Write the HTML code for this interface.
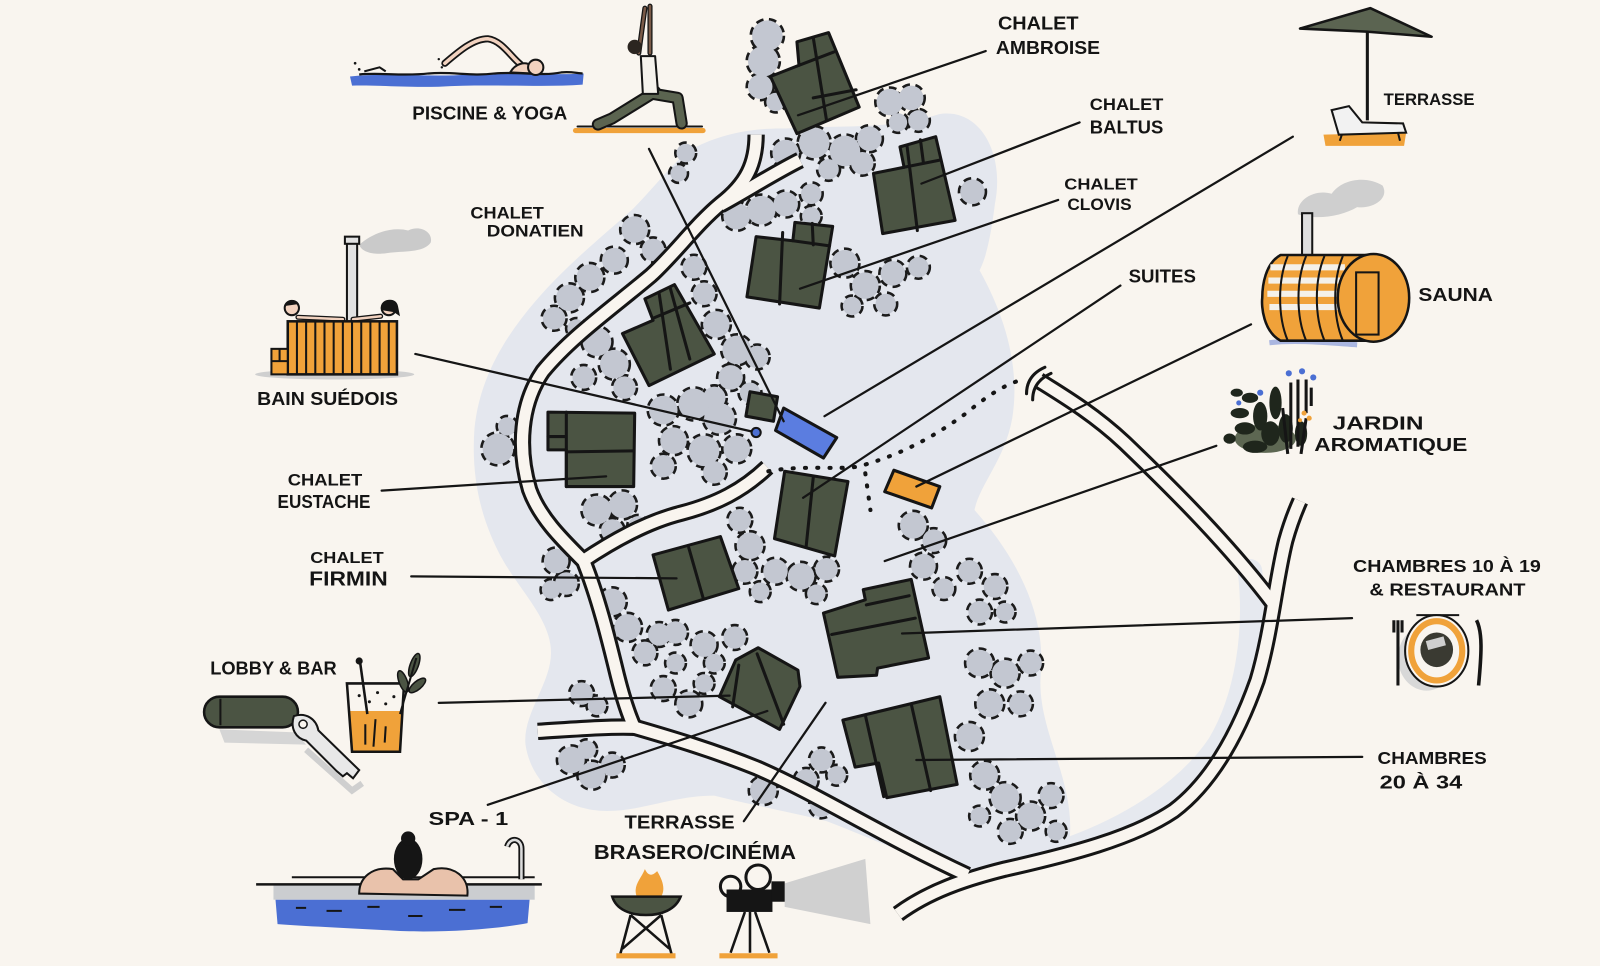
<!DOCTYPE html>
<html><head><meta charset="utf-8">
<style>
html,body{margin:0;padding:0;background:#f9f5ef;}
svg{display:block}
text{font-family:"Liberation Sans",Arial,sans-serif;font-weight:bold;fill:#141414;font-size:18px;}
</style></head><body>
<svg width="1600" height="966" viewBox="0 0 1568 947" preserveAspectRatio="none" xmlns="http://www.w3.org/2000/svg" xmlns:xlink="http://www.w3.org/1999/xlink">
<defs>
<g id="tr">
<circle cx="752" cy="35" r="15"/><circle cx="748" cy="60" r="15"/><circle cx="745" cy="85" r="12"/><circle cx="760" cy="100" r="9"/>
<circle cx="770" cy="150" r="13"/><circle cx="798" cy="140" r="15"/><circle cx="828" cy="148" r="15"/><circle cx="852" cy="136" r="12"/><circle cx="845" cy="160" r="11"/><circle cx="812" cy="166" r="10"/><circle cx="872" cy="100" r="13"/><circle cx="893" cy="96" r="12"/><circle cx="900" cy="118" r="10"/><circle cx="880" cy="120" r="9"/>
<circle cx="953" cy="188" r="12"/>
<circle cx="722" cy="212" r="13"/><circle cx="746" cy="206" r="14"/><circle cx="770" cy="200" r="12"/><circle cx="795" cy="190" r="10"/><circle cx="795" cy="212" r="9"/>
<circle cx="828" cy="258" r="13"/><circle cx="848" cy="280" r="13"/><circle cx="875" cy="268" r="12"/><circle cx="900" cy="262" r="10"/><circle cx="868" cy="298" r="10"/><circle cx="835" cy="300" r="9"/>
<circle cx="622" cy="225" r="13"/><circle cx="640" cy="245" r="11"/><circle cx="602" cy="255" r="12"/><circle cx="578" cy="272" r="13"/><circle cx="558" cy="292" r="13"/><circle cx="543" cy="312" r="11"/><circle cx="565" cy="322" r="9"/>
<circle cx="585" cy="335" r="14"/><circle cx="602" cy="357" r="14"/><circle cx="572" cy="370" r="11"/><circle cx="612" cy="380" r="11"/>
<circle cx="488" cy="440" r="15"/><circle cx="497" cy="418" r="9"/>
<circle cx="585" cy="500" r="14"/><circle cx="610" cy="495" r="13"/><circle cx="600" cy="520" r="11"/><circle cx="625" cy="515" r="9"/><circle cx="545" cy="550" r="12"/><circle cx="555" cy="572" r="11"/><circle cx="540" cy="578" r="9"/>
<circle cx="680" cy="262" r="11"/><circle cx="690" cy="288" r="11"/><circle cx="702" cy="318" r="13"/><circle cx="722" cy="343" r="14"/><circle cx="716" cy="370" r="12"/><circle cx="742" cy="350" r="11"/><circle cx="700" cy="390" r="11"/><circle cx="735" cy="385" r="10"/>
<circle cx="650" cy="402" r="14"/><circle cx="680" cy="396" r="15"/><circle cx="705" cy="410" r="15"/><circle cx="660" cy="432" r="13"/><circle cx="690" cy="442" r="15"/><circle cx="722" cy="440" r="13"/><circle cx="700" cy="463" r="11"/><circle cx="650" cy="457" r="11"/>
<circle cx="600" cy="590" r="13"/><circle cx="615" cy="615" r="13"/><circle cx="632" cy="640" r="11"/><circle cx="646" cy="622" r="11"/><circle cx="725" cy="510" r="11"/><circle cx="735" cy="535" r="13"/><circle cx="730" cy="560" r="11"/><circle cx="745" cy="580" r="9"/><circle cx="760" cy="560" r="12"/><circle cx="785" cy="565" r="13"/><circle cx="810" cy="558" r="11"/><circle cx="800" cy="582" r="9"/><circle cx="662" cy="620" r="11"/><circle cx="690" cy="632" r="12"/><circle cx="720" cy="625" r="11"/><circle cx="700" cy="650" r="9"/><circle cx="662" cy="650" r="9"/>
<circle cx="895" cy="515" r="13"/><circle cx="915" cy="530" r="11"/><circle cx="905" cy="555" r="12"/><circle cx="925" cy="577" r="10"/><circle cx="950" cy="560" r="11"/><circle cx="975" cy="575" r="11"/><circle cx="960" cy="600" r="11"/><circle cx="985" cy="600" r="9"/>
<circle cx="960" cy="650" r="13"/><circle cx="985" cy="660" r="13"/><circle cx="1010" cy="650" r="11"/><circle cx="970" cy="690" r="13"/><circle cx="1000" cy="690" r="11"/>
<circle cx="950" cy="722" r="13"/><circle cx="965" cy="760" r="13"/><circle cx="985" cy="782" r="14"/><circle cx="1010" cy="800" r="13"/><circle cx="1030" cy="780" r="11"/><circle cx="990" cy="815" r="11"/><circle cx="960" cy="800" r="9"/><circle cx="1035" cy="815" r="9"/>
<circle cx="570" cy="680" r="11"/><circle cx="585" cy="692" r="9"/><circle cx="560" cy="745" r="13"/><circle cx="580" cy="760" r="13"/><circle cx="600" cy="750" r="11"/><circle cx="575" cy="735" r="9"/>
<circle cx="650" cy="675" r="11"/><circle cx="675" cy="690" r="12"/><circle cx="690" cy="670" r="9"/><circle cx="748" cy="775" r="13"/><circle cx="790" cy="765" r="11"/><circle cx="805" cy="790" r="11"/><circle cx="805" cy="745" r="11"/><circle cx="820" cy="760" r="9"/>
<circle cx="672" cy="150" r="9"/><circle cx="665" cy="170" r="8"/>
</g>
<path id="r1" d="M741,132 C741,160 732,180 706,200 C682,220 662,248 638,270 C600,302 560,330 532,364 C510,396 507,440 519,480 C529,508 552,530 572,550 C586,585 596,625 605,662 C612,690 617,703 622,714"/>
<path id="r1b" d="M706,201 C730,188 758,170 784,157"/>
<path id="r2" d="M571,550 C598,532 632,512 668,503 C702,494 728,481 752,458"/>
<path id="r3" d="M527,717 C560,715 595,712 622,713"/>
<path id="r4" d="M622,713 C660,724 700,736 742,753 C802,779 862,818 948,858"/>
<path id="r5" d="M880,896 C910,874 945,862 985,852 C1047,838 1110,822 1150,795 C1190,765 1215,715 1232,667 C1246,620 1250,570 1260,530 C1265,512 1270,500 1274,491"/>
<path id="r6" d="M1248,592 C1205,535 1152,482 1102,434 C1072,406 1042,388 1018,373"/>
</defs>

<rect width="1568" height="947" fill="#f9f5ef"/>

<!-- wash -->
<path d="M672,150 C695,135 730,125 770,126 C820,122 870,128 920,112 C960,105 985,150 975,200 C970,240 965,255 960,265 C985,310 1000,360 992,410 C985,450 960,475 955,500 C995,545 1025,600 1020,660 C1015,715 1055,765 1048,825 C1020,855 975,860 940,852 C890,840 850,820 810,805 C770,795 740,790 700,780 C660,780 630,795 595,795 C550,795 520,765 515,730 C512,700 540,670 540,640 C540,605 505,575 488,540 C468,500 462,460 465,420 C470,370 495,330 525,295 C555,260 590,232 620,205 C640,185 655,165 672,150 Z" fill="#e4e7ee"/>
<path d="M1225,560 C1232,620 1222,685 1195,730 C1165,775 1110,810 1050,832" stroke="#e6e9ef" stroke-width="24" fill="none" stroke-linecap="round"/>

<!-- trees -->
<use xlink:href="#tr" fill="none" stroke="#1b1b1b" stroke-width="5" stroke-dasharray="7 5"/>
<use xlink:href="#tr" fill="#c3c7d1" stroke="none"/>

<!-- roads -->
<g fill="none" stroke-linecap="butt" stroke-linejoin="round">
<g stroke="#151515" stroke-width="17">
<use xlink:href="#r1"/><use xlink:href="#r1b"/><use xlink:href="#r2"/><use xlink:href="#r3"/><use xlink:href="#r4"/><use xlink:href="#r5"/><use xlink:href="#r6"/>
</g>
<g stroke="#f9f5ef" stroke-width="11">
<use xlink:href="#r1"/><use xlink:href="#r1b"/><use xlink:href="#r2"/><use xlink:href="#r3"/><use xlink:href="#r4"/><use xlink:href="#r5"/><use xlink:href="#r6"/>
</g>
<path d="M1006,386 Q1006,368 1024,360 M1012,392 Q1012,374 1030,366" stroke="#151515" stroke-width="3" stroke-linecap="round"/>
<path d="M753,462 C790,455 830,462 846,456 C880,446 910,432 947,405 C965,390 985,376 1003,372 M848,464 L853,500" stroke="#151515" stroke-width="4" stroke-dasharray="1 11" stroke-linecap="round"/>
</g>

<!-- buildings -->
<g fill="#4b5443" stroke="#151515" stroke-width="3" stroke-linejoin="round">
<polygon points="755,75 783,64 781,41 812,32 842,105 781,131"/>
<polygon points="856,170 886,164 882,144 917,134 936,216 865,229"/>
<polygon points="741,232 777,236 779,218 816,222 803,302 732,291"/>
<polygon points="610,327 640,314 632,293 661,279 700,347 636,378"/>
<polygon points="537,404 622,405 621,477 555,477 555,441 537,441"/>
<polygon points="769,462 831,472 818,545 759,528"/>
<polygon points="735,384 762,389 758,413 731,408"/>
<polygon points="640,544 706,526 724,577 655,598"/>
<polygon points="807,601 848,588 846,578 893,568 910,645 860,655 859,662 821,664"/>
<polygon points="826,706 921,683 938,769 869,782 861,748 838,752"/>
<polygon points="705,683 721,647 743,635 782,657 784,673 764,715"/>
<polygon points="768,400 820,429 807,449 760,422" fill="#5b7de0"/>
<polygon points="876,461 921,477 913,498 867,482" fill="#f0a23a"/>
</g>
<g stroke="#151515" stroke-width="3" fill="none" stroke-linecap="round">
<path d="M783,64 L817,51 M797,37 L810,118 M797,96 L839,88"/>
<path d="M886,164 L921,157 M889,144 L899,226 M902,137 L905,160"/>
<path d="M777,236 L813,241 M767,228 L764,298 M796,219 L797,240"/>
<path d="M640,312 L676,297 M646,288 L657,362 M657,283 L676,352"/>
<path d="M555,404 L555,477 M555,443 L621,442 M537,428 L555,428"/>
<path d="M797,468 L790,536"/>
<path d="M675,537 L689,586"/>
<path d="M849,593 L891,584 M815,622 L897,606"/>
<path d="M848,701 L866,781 M893,690 L912,775"/>
<path d="M724,652 L718,693 M742,641 L768,710"/>
</g>

<!-- leader lines -->
<g stroke="#151515" stroke-width="2.2" fill="none" stroke-linecap="round">
<path d="M636,146 L768,413"/>
<path d="M782,113 L966,50"/>
<path d="M903,180 L1058,120"/>
<path d="M784,283 L1037,196"/>
<path d="M787,488 L1098,280"/>
<path d="M808,408 L1267,134"/>
<path d="M898,477 L1226,318"/>
<path d="M867,550 L1192,437"/>
<path d="M407,347 L741,424"/>
<path d="M374,481 L594,467"/>
<path d="M403,565 L663,567"/>
<path d="M430,689 L715,682"/>
<path d="M478,789 L752,697"/>
<path d="M729,805 L809,689"/>
<path d="M884,621 L1325,606"/>
<path d="M898,745 L1335,742"/>
</g>
<circle cx="741" cy="424" r="4.5" fill="#4b6fd3" stroke="#151515" stroke-width="2"/>

<!-- swimmer -->
<path d="M343,75 C380,71 420,76 460,73 C500,71 540,74 572,72 L571,83 C530,86 480,82 430,85 C395,86 365,83 345,84 Z" fill="#4b6fd3"/>
<path d="M352,73 C375,71 395,75 420,72 C445,70 460,75 485,72 C510,70 530,75 550,71 C560,70 566,72 571,72" fill="none" stroke="#151515" stroke-width="2.2"/>
<path d="M436,62 C450,50 464,38 478,38 C492,40 500,55 510,63" fill="none" stroke="#151515" stroke-width="7" stroke-linecap="round"/>
<path d="M436,62 C450,50 464,38 478,38 C492,40 500,55 510,63" fill="none" stroke="#f2d2bf" stroke-width="3.5" stroke-linecap="round"/>
<path d="M500,71 C505,62 515,60 520,64 L520,72 Z" fill="#f2d2bf" stroke="#151515" stroke-width="2"/>
<circle cx="525" cy="66" r="7.5" fill="#f2d2bf" stroke="#151515" stroke-width="2"/>
<path d="M357,70 L372,66 L378,70" fill="none" stroke="#151515" stroke-width="2"/>
<g fill="#151515"><circle cx="348" cy="62" r="1.3"/><circle cx="352" cy="68" r="1.3"/><circle cx="430" cy="58" r="1.2"/><circle cx="433" cy="66" r="1.2"/></g>

<!-- yoga -->
<g stroke-linecap="round" stroke-linejoin="round" fill="none">
<line x1="564" y1="128" x2="689" y2="128" stroke="#f0a23a" stroke-width="5"/>
<line x1="566" y1="124" x2="688" y2="124" stroke="#151515" stroke-width="2"/>
<path d="M642,90 L600,116 L586,122" stroke="#151515" stroke-width="12"/>
<path d="M640,92 L664,96 L668,121" stroke="#151515" stroke-width="12"/>
<path d="M642,90 L600,116 L586,122" stroke="#5b6450" stroke-width="8"/>
<path d="M640,92 L664,96 L668,121" stroke="#5b6450" stroke-width="8"/>
<path d="M628,55 L642,55 L645,92 L630,92 Z" fill="#f5f2ec" stroke="#151515" stroke-width="2"/>
<path d="M626,52 L632,8 M637,52 L637,6" stroke="#151515" stroke-width="5"/>
<path d="M626,52 L632,8 M637,52 L637,6" stroke="#7a5a48" stroke-width="2.5"/>
</g>
<circle cx="622" cy="46" r="7" fill="#2b2520"/>

<!-- bain suedois -->
<path d="M352,240 C365,228 385,222 400,226 C412,220 425,228 422,238 C415,248 395,246 380,248 C368,250 355,248 352,240Z" fill="#cacaca"/>
<ellipse cx="328" cy="367" rx="78" ry="5" fill="#cfcfcf"/>
<rect x="340" y="238" width="10" height="78" fill="#e2e2e2" stroke="#151515" stroke-width="2"/>
<rect x="338" y="232" width="14" height="7" fill="#e2e2e2" stroke="#151515" stroke-width="2"/>
<path d="M292,311 L336,313 M346,313 L373,310" stroke="#151515" stroke-width="5" stroke-linecap="round"/>
<path d="M292,311 L336,313 M346,313 L373,310" stroke="#f2d2bf" stroke-width="2.5" stroke-linecap="round"/>
<circle cx="286" cy="302" r="7" fill="#f2d2bf" stroke="#151515" stroke-width="2"/>
<path d="M279,300 C280,293 290,292 293,298" fill="#151515"/>
<circle cx="381" cy="302" r="7" fill="#f2d2bf" stroke="#151515" stroke-width="2"/>
<path d="M374,304 C372,293 388,290 390,300 L392,310 L386,306 Z" fill="#151515"/>
<rect x="282" y="315" width="107" height="52" fill="#f0a23a" stroke="#151515" stroke-width="2.5"/>
<g stroke="#151515" stroke-width="2">
<path d="M291,315 V367 M300,315 V367 M309,315 V367 M318,315 V367 M327,315 V367 M336,315 V367 M345,315 V367 M354,315 V367 M363,315 V367 M372,315 V367 M381,315 V367"/>
</g>
<rect x="266" y="342" width="16" height="25" fill="#f0a23a" stroke="#151515" stroke-width="2"/>
<path d="M266,354 H282 M274,342 V354" stroke="#151515" stroke-width="2"/>

<!-- lobby & bar -->
<path d="M215,715 L290,718 L300,730 L220,728 Z" fill="#d5d5d5"/>
<rect x="200" y="683" width="92" height="30" rx="15" fill="#4b5443" stroke="#151515" stroke-width="2.5"/>
<line x1="216" y1="685" x2="216" y2="711" stroke="#151515" stroke-width="2"/>
<path d="M300,735 L345,775 L355,768" fill="none" stroke="#cfcfcf" stroke-width="6"/>
<path d="M288,702 C300,698 310,705 312,716 L352,755 L346,763 L340,758 L336,761 L330,756 L300,726 C290,724 284,714 288,702 Z" fill="#e8e8e8" stroke="#151515" stroke-width="2"/>
<circle cx="297" cy="710" r="4" fill="#f9f5ef" stroke="#151515" stroke-width="1.5"/>
<path d="M340,670 L396,670 L392,737 L345,737 Z" fill="#f9f5ef"/>
<path d="M341,697 L395,697 L392,737 L345,737 Z" fill="#f0a23a"/>
<path d="M340,670 L396,670 L392,737 L345,737 Z" fill="none" stroke="#151515" stroke-width="2.5"/>
<g fill="#151515"><circle cx="352" cy="682" r="1.5"/><circle cx="362" cy="688" r="1.5"/><circle cx="370" cy="679" r="1.5"/><circle cx="378" cy="690" r="1.5"/><circle cx="386" cy="683" r="1.5"/></g>
<path d="M358,710 L358,730 M368,705 L366,732 M378,712 L377,728" stroke="#151515" stroke-width="2"/>
<line x1="353" y1="650" x2="360" y2="700" stroke="#151515" stroke-width="2.5"/>
<circle cx="352" cy="648" r="3.5" fill="#151515"/>
<g fill="#4b5443" stroke="#151515" stroke-width="1.5">
<ellipse cx="395" cy="668" rx="4" ry="11" transform="rotate(-20 395 668)"/>
<ellipse cx="406" cy="652" rx="4" ry="12" transform="rotate(20 406 652)"/>
<ellipse cx="409" cy="672" rx="4" ry="10" transform="rotate(50 409 672)"/>
</g>
<line x1="392" y1="700" x2="408" y2="645" stroke="#151515" stroke-width="2"/>

<!-- spa pool -->
<line x1="286" y1="860" x2="524" y2="860" stroke="#151515" stroke-width="2"/>
<rect x="268" y="868" width="256" height="14" fill="#cbcdd0"/>
<line x1="251" y1="867" x2="531" y2="867" stroke="#151515" stroke-width="2.5"/>
<path d="M270,882 L519,882 L517,905 C480,912 420,915 380,912 C340,910 300,908 272,906 Z" fill="#4b6fd3"/>
<path d="M290,890 H300 M320,893 H335 M360,889 H372 M440,892 H456 M480,889 H492 M400,898 H414" stroke="#151515" stroke-width="2"/>
<path d="M352,876 C352,860 365,849 385,852 L395,862 L410,862 L425,852 C445,848 460,860 458,878 Z" fill="#e9c2ab" stroke="#151515" stroke-width="2"/>
<ellipse cx="400" cy="842" rx="14" ry="20" fill="#151515"/>
<circle cx="400" cy="822" r="7" fill="#151515"/>
<path d="M511,862 L511,832 C511,822 500,820 497,830" fill="none" stroke="#151515" stroke-width="6"/>
<path d="M511,862 L511,832 C511,822 500,820 497,830" fill="none" stroke="#dcdcdc" stroke-width="2.5"/>

<!-- brasero -->
<path d="M624,879 C620,868 628,862 632,852 C636,860 640,858 644,854 C650,864 652,872 648,879 Z" fill="#f0a23a"/>
<path d="M600,879 L667,879 C662,892 648,897 633,897 C618,897 604,892 600,879 Z" fill="#4b5443" stroke="#151515" stroke-width="2.5"/>
<path d="M618,897 L608,935 M648,897 L658,935 M618,897 L656,930 M648,897 L610,930" stroke="#151515" stroke-width="2.5"/>
<line x1="604" y1="937" x2="662" y2="937" stroke="#f0a23a" stroke-width="5"/>

<!-- projector -->
<polygon points="769,866 848,842 853,906 769,889" fill="#d0d0d0"/>
<circle cx="716" cy="869" r="10" fill="none" stroke="#151515" stroke-width="3"/>
<circle cx="743" cy="860" r="12" fill="none" stroke="#151515" stroke-width="3"/>
<rect x="712" y="872" width="45" height="22" fill="#151515"/>
<rect x="756" y="864" width="13" height="20" fill="#151515"/>
<path d="M730,894 L716,934 M735,894 L735,934 M740,894 L754,934" stroke="#151515" stroke-width="2.5"/>
<line x1="705" y1="937" x2="762" y2="937" stroke="#f0a23a" stroke-width="5"/>

<!-- umbrella terrasse -->
<polygon points="1274,28 1343,8 1403,36 1339,31" fill="#5b6451" stroke="#151515" stroke-width="2.5" stroke-linejoin="round"/>
<line x1="1340" y1="31" x2="1340" y2="118" stroke="#151515" stroke-width="3"/>
<path d="M1297,132 L1378,130 L1376,143 L1299,143 Z" fill="#f0a23a"/>
<path d="M1305,108 L1322,104 L1335,120 L1375,121 L1378,130 L1312,132 Z" fill="#f2f2f2" stroke="#151515" stroke-width="2"/>
<path d="M1315,132 L1313,138 M1370,130 L1372,138" stroke="#151515" stroke-width="2"/>

<!-- sauna -->
<path d="M1272,210 C1270,195 1290,185 1305,190 C1315,175 1340,172 1355,182 C1362,195 1345,205 1330,203 C1315,212 1290,216 1272,210 Z" fill="#cfcfcf"/>
<rect x="1276" y="209" width="10" height="42" fill="#dedede" stroke="#151515" stroke-width="2"/>
<path d="M1244,336 C1270,333 1300,336 1330,338" stroke="#aab6e0" stroke-width="5" fill="none"/>
<path d="M1255,250 L1345,250 L1345,334 L1255,334 C1238,325 1236,300 1237,292 C1237,280 1240,258 1255,250 Z" fill="#f0a23a" stroke="#151515" stroke-width="2.5"/>
<path d="M1245,262 H1318 M1243,275 H1318 M1242,288 H1318 M1244,301 H1318" stroke="#f4f1ea" stroke-width="6"/>
<path d="M1262,251 C1252,275 1252,310 1262,334 M1280,251 C1270,275 1270,310 1280,334 M1298,251 C1288,275 1288,310 1298,334 M1316,251 C1306,275 1306,310 1316,334" fill="none" stroke="#151515" stroke-width="2"/>
<ellipse cx="1346" cy="292" rx="35" ry="43" fill="#f0a23a" stroke="#151515" stroke-width="2.5"/>
<rect x="1329" y="267" width="22" height="61" fill="#f0a23a" stroke="#151515" stroke-width="2"/>

<!-- jardin -->
<g>
<ellipse cx="1240" cy="430" rx="30" ry="14" fill="#5d6752"/>
<g fill="#1f261c">
<ellipse cx="1215" cy="405" rx="9" ry="5"/><ellipse cx="1225" cy="390" rx="8" ry="5"/><ellipse cx="1220" cy="420" rx="10" ry="6"/><ellipse cx="1235" cy="408" rx="7" ry="14"/><ellipse cx="1250" cy="395" rx="6" ry="16"/><ellipse cx="1245" cy="425" rx="9" ry="12"/><ellipse cx="1260" cy="420" rx="7" ry="14"/><ellipse cx="1230" cy="438" rx="12" ry="6"/><ellipse cx="1275" cy="425" rx="6" ry="12"/><ellipse cx="1212" cy="385" rx="6" ry="4"/><ellipse cx="1205" cy="430" rx="6" ry="5"/>
</g>
<path d="M1265,375 V440 M1272,372 V438 M1280,372 V405 M1285,380 V398 M1257,400 L1262,445 M1280,410 L1275,445" stroke="#151515" stroke-width="3" fill="none"/>
<g fill="#4b6fd3"><circle cx="1263" cy="366" r="3"/><circle cx="1276" cy="364" r="3"/><circle cx="1287" cy="370" r="3"/><circle cx="1235" cy="385" r="3"/><circle cx="1214" cy="395" r="2.5"/></g>
<g fill="#f0a23a"><circle cx="1278" cy="405" r="2.5"/><circle cx="1283" cy="410" r="2.5"/><circle cx="1274" cy="412" r="2"/></g>
</g>

<!-- plate -->
<ellipse cx="1398" cy="645" rx="28" ry="32" fill="#d8d8d8"/>
<line x1="1388" y1="603" x2="1430" y2="603" stroke="#151515" stroke-width="2"/>
<ellipse cx="1408" cy="638" rx="31" ry="35" fill="#f9f5ef" stroke="#151515" stroke-width="2"/>
<ellipse cx="1408" cy="638" rx="25" ry="29" fill="none" stroke="#f0a23a" stroke-width="6"/>
<ellipse cx="1408" cy="637" rx="16" ry="17" fill="#3a3a32"/>
<rect x="1398" y="626" width="18" height="9" fill="#cfcfcf" transform="rotate(-15 1407 630)"/>
<path d="M1370,608 L1370,672 M1366,608 V620 M1374,608 V620" stroke="#151515" stroke-width="3" fill="none"/>
<path d="M1447,608 C1453,620 1452,640 1449,672" stroke="#151515" stroke-width="3.5" fill="none"/>

<!-- labels -->
<g>
<text x="978" y="29" textLength="79" lengthAdjust="spacingAndGlyphs">CHALET</text>
<text x="976" y="53" textLength="102" lengthAdjust="spacingAndGlyphs">AMBROISE</text>
<text x="1068" y="108" textLength="72" lengthAdjust="spacingAndGlyphs" style="font-size:16px">CHALET</text>
<text x="1068" y="131" textLength="72" lengthAdjust="spacingAndGlyphs">BALTUS</text>
<text x="1043" y="186" textLength="72" lengthAdjust="spacingAndGlyphs" style="font-size:15px">CHALET</text>
<text x="1046" y="206" textLength="63" lengthAdjust="spacingAndGlyphs" style="font-size:16px">CLOVIS</text>
<text x="1106" y="277" textLength="66" lengthAdjust="spacingAndGlyphs">SUITES</text>
<text x="404" y="117" textLength="152" lengthAdjust="spacingAndGlyphs">PISCINE &amp; YOGA</text>
<text x="461" y="214" textLength="72" lengthAdjust="spacingAndGlyphs" style="font-size:16px">CHALET</text>
<text x="477" y="232" textLength="95" lengthAdjust="spacingAndGlyphs" style="font-size:16px">DONATIEN</text>
<text x="252" y="397" textLength="138" lengthAdjust="spacingAndGlyphs">BAIN SUÉDOIS</text>
<text x="282" y="476" textLength="73" lengthAdjust="spacingAndGlyphs" style="font-size:16px">CHALET</text>
<text x="272" y="498" textLength="91" lengthAdjust="spacingAndGlyphs">EUSTACHE</text>
<text x="304" y="552" textLength="72" lengthAdjust="spacingAndGlyphs" style="font-size:15px">CHALET</text>
<text x="303" y="574" textLength="77" lengthAdjust="spacingAndGlyphs" style="font-size:20px">FIRMIN</text>
<text x="206" y="661" textLength="124" lengthAdjust="spacingAndGlyphs">LOBBY &amp; BAR</text>
<text x="420" y="809" textLength="78" lengthAdjust="spacingAndGlyphs">SPA - 1</text>
<text x="612" y="812" textLength="108" lengthAdjust="spacingAndGlyphs">TERRASSE</text>
<text x="582" y="842" textLength="198" lengthAdjust="spacingAndGlyphs" style="font-size:20px">BRASERO/CINÉMA</text>
<text x="1356" y="103" textLength="89" lengthAdjust="spacingAndGlyphs" style="font-size:16px">TERRASSE</text>
<text x="1390" y="295" textLength="73" lengthAdjust="spacingAndGlyphs">SAUNA</text>
<text x="1306" y="421" textLength="89" lengthAdjust="spacingAndGlyphs">JARDIN</text>
<text x="1288" y="442" textLength="150" lengthAdjust="spacingAndGlyphs">AROMATIQUE</text>
<text x="1326" y="561" textLength="184" lengthAdjust="spacingAndGlyphs" style="font-size:17px">CHAMBRES 10 À 19</text>
<text x="1342" y="584" textLength="153" lengthAdjust="spacingAndGlyphs" style="font-size:17px">&amp; RESTAURANT</text>
<text x="1350" y="749" textLength="107" lengthAdjust="spacingAndGlyphs" style="font-size:17px">CHAMBRES</text>
<text x="1352" y="773" textLength="81" lengthAdjust="spacingAndGlyphs">20 À 34</text>
</g>
</svg>
</body></html>
